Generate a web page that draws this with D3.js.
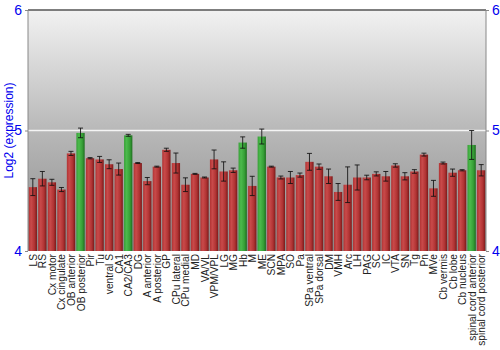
<!DOCTYPE html>
<html><head><meta charset="utf-8">
<script src="https://cdn.jsdelivr.net/npm/d3@7"></script>
<style>body{margin:0;background:#fff}svg{display:block}</style>
</head><body><svg id="c" width="500" height="350"></svg>
<script>
const categories = ["LS","RS","Cx motor","Cx cingulate","OB anterior","OB posterior","Pir","Tu","ventral S","CA1","CA2/CA3","DG","A anterior","A posterior","GP","CPu lateral","CPu medial","MD","VA/VL","VPM/VPL","LG","MG","Hb","M","ME","SCN","MPA","SO","Pa","SPa ventral","SPa dorsal","DM","VMH","Arc","LH","PAG","SC","IC","VTA","SN","Tg","Pn","MVe","Cb vermis","Cb lobe","Cb nucleus","spinal cord anterior","spinal cord posterior"];
const values = [4.53,4.60,4.57,4.51,4.81,4.98,4.77,4.76,4.72,4.68,4.96,4.73,4.58,4.70,4.84,4.73,4.55,4.64,4.61,4.76,4.66,4.67,4.90,4.54,4.95,4.70,4.61,4.61,4.63,4.74,4.70,4.62,4.49,4.55,4.61,4.61,4.64,4.62,4.71,4.62,4.66,4.80,4.52,4.73,4.65,4.67,4.88,4.67];
const errors = [0.07,0.06,0.025,0.017,0.017,0.04,0.005,0.025,0.037,0.05,0.008,0.004,0.03,0.004,0.013,0.083,0.057,0.004,0.004,0.078,0.08,0.018,0.047,0.08,0.062,0.004,0.012,0.05,0.017,0.07,0.022,0.06,0.07,0.148,0.104,0.019,0.017,0.04,0.014,0.03,0.015,0.012,0.066,0.008,0.03,0.005,0.12,0.047];
const highlighted = ["OB posterior","CA2/CA3","Hb","ME","spinal cord anterior"];
const yTicks = [4,5,6];
const yTitle = "Log2 (expression)";

const W=500,H=350,m={l:28,r:14,t:10,b:99};
const svg=d3.select("#c");
const defs=svg.append("defs");
const bg=defs.append("linearGradient").attr("id","bg").attr("x1",0).attr("y1",0).attr("x2",0).attr("y2",1);
bg.append("stop").attr("offset","0").attr("stop-color","#f2f2f2");
bg.append("stop").attr("offset","0.5").attr("stop-color","#b8b8b8");
bg.append("stop").attr("offset","1").attr("stop-color","#8a8a8a");
function barGrad(id,dark,mid,light){
  const g=defs.append("linearGradient").attr("id",id).attr("x1",0).attr("y1",0).attr("x2",1).attr("y2",0);
  g.append("stop").attr("offset","0").attr("stop-color",mid);
  g.append("stop").attr("offset","0.3").attr("stop-color",light);
  g.append("stop").attr("offset","0.7").attr("stop-color",mid);
  g.append("stop").attr("offset","1").attr("stop-color",dark);
}
barGrad("gr","#7a1a1a","#b03333","#c94a4a");
barGrad("gg","#1f6e1f","#37a037","#4cba4c");

const x=d3.scaleBand().domain(categories).range([m.l,W-m.r]).paddingInner(0.13).paddingOuter(0.07);
const y=d3.scaleLinear().domain([4,6]).range([H-m.b,m.t]);

svg.append("rect").attr("x",m.l).attr("y",m.t).attr("width",W-m.l-m.r).attr("height",H-m.t-m.b).attr("fill","url(#bg)");
svg.append("line").attr("x1",m.l).attr("x2",W-m.r).attr("y1",y(5)).attr("y2",y(5)).attr("stroke","#f4f4f4").attr("stroke-width",1.5);

svg.selectAll("rect.bar").data(categories).enter().append("rect").attr("class","bar")
  .attr("x",d=>x(d)).attr("width",x.bandwidth())
  .attr("y",(d,i)=>y(values[i])).attr("height",(d,i)=>y(4)-y(values[i]))
  .attr("fill",d=>highlighted.includes(d)?"url(#gg)":"url(#gr)");

const eb=svg.append("g").attr("stroke","#111").attr("stroke-opacity",0.85).attr("stroke-width",1);
categories.forEach((c,i)=>{
  const cx=x(c)+x.bandwidth()/2, y1=y(values[i]+errors[i]), y2=y(values[i]-errors[i]);
  eb.append("line").attr("x1",cx).attr("x2",cx).attr("y1",y1).attr("y2",y2);
  eb.append("line").attr("x1",cx-2.5).attr("x2",cx+2.5).attr("y1",y1).attr("y2",y1);
  eb.append("line").attr("x1",cx-2.5).attr("x2",cx+2.5).attr("y1",y2).attr("y2",y2);
});

// frame
svg.append("line").attr("x1",m.l).attr("x2",W-m.r).attr("y1",m.t).attr("y2",m.t).attr("stroke","#555").attr("stroke-width",1.5);
svg.append("line").attr("x1",m.l).attr("x2",m.l).attr("y1",m.t).attr("y2",H-m.b).attr("stroke","#888");
svg.append("line").attr("x1",W-m.r).attr("x2",W-m.r).attr("y1",m.t).attr("y2",H-m.b).attr("stroke","#888");

const la=d3.axisLeft(y).tickValues(yTicks).tickFormat(d3.format("d")).tickSize(3);
const ra=d3.axisRight(y).tickValues(yTicks).tickFormat(d3.format("d")).tickSize(3);
[[la,m.l],[ra,W-m.r]].forEach(([a,tx])=>{
  const g=svg.append("g").attr("transform",`translate(${tx},0)`).call(a);
  g.select(".domain").remove();
  g.selectAll("line").attr("stroke","#888");
  g.selectAll("text").attr("fill","#0000ee").attr("font-family","Liberation Sans, Arial, sans-serif").attr("font-size",14);
});

svg.append("text").attr("transform",`translate(13,${(m.t+H-m.b)/2}) rotate(-90)`)
  .attr("text-anchor","middle").attr("fill","#0000ee").attr("font-family","Liberation Sans, Arial, sans-serif").attr("font-size",12).text(yTitle);

svg.selectAll("text.xl").data(categories).enter().append("text").attr("class","xl")
  .attr("transform",d=>`translate(${x(d)+x.bandwidth()/2+4},${H-m.b+3}) rotate(-90)`)
  .attr("text-anchor","end").attr("fill","#222").attr("font-family","Liberation Sans, Arial, sans-serif").attr("font-size",10.2).text(d=>d);
</script></body></html>
